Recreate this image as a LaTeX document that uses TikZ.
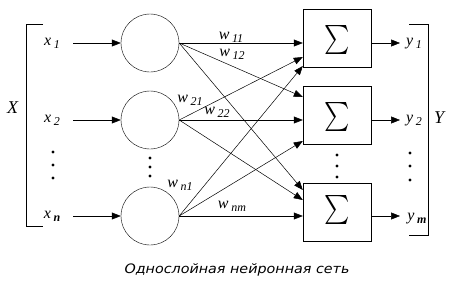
\documentclass[tikz,border=0pt]{standalone}
\usepackage{fontspec}
\setmainfont{Liberation Serif}
\newfontfamily\capfont{DejaVu Sans}
\usetikzlibrary{arrows.meta,calc}
\newcommand\ws[2]{\textit{#1}\,\raisebox{-3pt}{\fontsize{12}{14}\selectfont\textit{#2}}}
\newcommand\wsb[2]{\textit{#1}\,\raisebox{-3pt}{\fontsize{12}{14}\selectfont\bfseries\itshape #2}}
\newcommand\bigsum{\scalebox{2.4}[2.9]{$\sum$}}
\tikzset{
  neuron/.style={draw,circle,minimum size=58pt,inner sep=0pt},
  sumbox/.style={draw,rectangle,minimum width=68pt,minimum height=58pt,inner sep=0pt},
  sumsign/.style={inner sep=0pt,outer sep=0pt},
  conn/.style={-{Triangle[length=9pt,width=7pt]},line width=0.5pt},
  lab/.style={inner sep=0pt,font=\fontsize{16}{18}\selectfont},
  bigdot/.style={circle,fill,inner sep=0pt,minimum size=3.2pt},
  bracket/.style={line width=0.6pt}
}
\begin{document}
\begin{tikzpicture}[x=1pt,y=-1pt]
\useasboundingbox (0,0) rectangle (451,287);
% neurons
\node[neuron] (c1) at (150,43) {};
\node[neuron] (c2) at (150,120) {};
\node[neuron] (c3) at (150,216) {};
% sum boxes
\node[sumbox] (s1) at (337,38) {};
\node[sumbox] (s2) at (337,115) {};
\node[sumbox] (s3) at (337,212) {};
\node[sumsign] (g1) at (337,40) {\bigsum};
\node[sumsign] (g2) at (337,117) {\bigsum};
\node[sumsign] (g3) at (337,210) {\bigsum};
% input labels
\node[lab] (x1) at (52,43) {\ws{x}{1}};
\node[lab] (x2) at (52,120) {\ws{x}{2}};
\node[lab] (xn) at (52,216) {\wsb{x}{n}};
\coordinate (i1) at (73,43);
\coordinate (i2) at (73,120);
\coordinate (i3) at (73,216);
\draw[conn] (i1) -- (c1);
\draw[conn] (i2) -- (c2);
\draw[conn] (i3) -- (c3);
% connections
\draw[conn] (c1.east) -- ([yshift=-5pt]s1.west);
\draw[conn] (c1.east) -- ([yshift=18pt]s2.west);
\draw[conn] (c1.east) -- ([yshift=22pt]s3.west);
\draw[conn] (c2.east) -- ([yshift=-19pt]s1.west);
\draw[conn] (c2.east) -- ([yshift=-5pt]s2.west);
\draw[conn] (c2.east) -- ([yshift=12pt]s3.west);
\draw[conn] (c3.east) -- ([yshift=-28pt]s1.west);
\draw[conn] (c3.east) -- ([yshift=-26pt]s2.west);
\draw[conn] (c3.east) -- ([yshift=-4pt]s3.west);
% weight labels
\node[lab] (w11) at (231,37) {\ws{w}{11}};
\node[lab] (w12) at (232,54) {\ws{w}{12}};
\node[lab] (w21) at (190,100) {\ws{w}{21}};
\node[lab] (w22) at (217,112) {\ws{w}{22}};
\node[lab] (wn1) at (180,185) {\ws{w}{n1}};
\node[lab] (wnm) at (232,206) {\ws{w}{nm}};
% outputs
\node[lab] (y1) at (414,44) {\ws{y}{1}};
\node[lab] (y2) at (414,121) {\ws{y}{2}};
\node[lab] (ym) at (417,219) {\wsb{y}{m}};
\coordinate (o1) at (400,43);
\coordinate (o2) at (400,120);
\coordinate (o3) at (400,216);
\draw[conn] (s1.east |- o1) -- (o1);
\draw[conn] (s2.east |- o2) -- (o2);
\draw[conn] (s3.east |- o3) -- (o3);
% dots
\foreach \yy in {152,165,178} \node[bigdot] at (53,\yy) {};
\foreach \yy in {158,167,176} \node[bigdot] at (150,\yy) {};
\foreach \yy in {155,166,177} \node[bigdot] at (337,\yy) {};
\foreach \yy in {153,166,180} \node[bigdot] at (410,\yy) {};
% brackets
\coordinate (bxa) at (43,24);
\coordinate (bxb) at (26,24);
\coordinate (bxc) at (26,226);
\coordinate (bxd) at (43,226);
\draw[bracket] (bxa) -- (bxb) -- (bxc) -- (bxd);
\node[lab,font=\fontsize{18}{20}\selectfont] (X) at (13,108) {\textit{X}};
\coordinate (bya) at (409,24);
\coordinate (byb) at (428,24);
\coordinate (byc) at (428,235);
\coordinate (byd) at (409,235);
\draw[bracket] (bya) -- (byb) -- (byc) -- (byd);
\node[lab,font=\fontsize{18}{20}\selectfont] (Y) at (440,118) {\textit{Y}};
% caption
\node[inner sep=0pt] (cap) at (237,270) {\scalebox{1.1}[1]{\capfont\itshape\fontsize{13}{15}\selectfont Однослойная нейронная сеть}};
\end{tikzpicture}
\end{document}
